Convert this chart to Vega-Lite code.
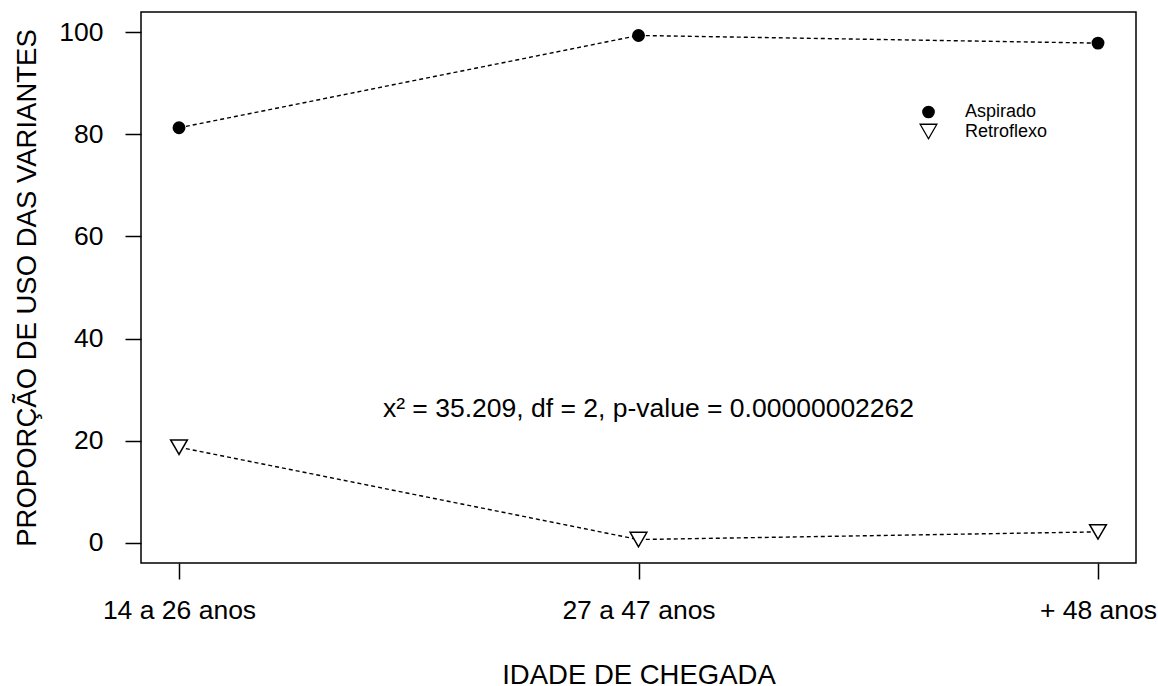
{
  "$schema": "https://vega.github.io/schema/vega-lite/v6.json",
  "width": 995,
  "height": 551,
  "autosize": {"type": "none"},
  "padding": {"left": 141, "top": 12, "right": 22, "bottom": 123},
  "background": "white",
  "config": {
    "font": "Liberation Sans",
    "view": {"stroke": "black", "strokeWidth": 1.5},
    "axis": {
      "domain": false,
      "grid": false,
      "tickColor": "black",
      "tickWidth": 1.5,
      "tickSize": 16,
      "labelColor": "black",
      "titleColor": "black",
      "labelFont": "Liberation Sans",
      "titleFont": "Liberation Sans",
      "labelFontSize": 26.5,
      "titleFontSize": 27.5,
      "titleFontWeight": "normal"
    },
    "legend": {
      "labelFont": "Liberation Sans",
      "labelFontSize": 18,
      "labelColor": "black",
      "orient": "none",
      "legendX": 778,
      "legendY": 91,
      "labelOffset": 27,
      "rowPadding": 0,
      "symbolStrokeColor": "black",
      "symbolStrokeWidth": 1.3
    }
  },
  "datasets": {
    "props": [
      {"idade": "14 a 26 anos", "variante": "Aspirado", "valor": 81.3},
      {"idade": "27 a 47 anos", "variante": "Aspirado", "valor": 99.4},
      {"idade": "+ 48 anos", "variante": "Aspirado", "valor": 97.9},
      {"idade": "14 a 26 anos", "variante": "Retroflexo", "valor": 18.7},
      {"idade": "27 a 47 anos", "variante": "Retroflexo", "valor": 0.6},
      {"idade": "+ 48 anos", "variante": "Retroflexo", "valor": 2.1}
    ],
    "nota": [
      {"idade": "27 a 47 anos", "valor": 24.7, "texto": "x² = 35.209, df = 2, p-value = 0.00000002262"}
    ]
  },
  "encoding": {
    "x": {
      "field": "idade",
      "type": "ordinal",
      "scale": {"type": "point", "domain": ["14 a 26 anos", "27 a 47 anos", "+ 48 anos"], "padding": 0.0827},
      "axis": {
        "title": "IDADE DE CHEGADA",
        "labelAngle": 0,
        "labelBaseline": "alphabetic",
        "labelPadding": 39,
        "titleX": 497.5,
        "titleY": 120,
        "titleBaseline": "alphabetic",
        "titleAlign": "center"
      }
    },
    "y": {
      "field": "valor",
      "type": "quantitative",
      "scale": {"domain": [-4, 104], "nice": false, "zero": false},
      "axis": {
        "values": [0, 20, 40, 60, 80, 100],
        "title": "PROPORÇÃO DE USO DAS VARIANTES",
        "labelPadding": 22,
        "labelBaseline": "middle",
        "titleX": -106,
        "titleY": 275.5,
        "titleAngle": -90,
        "titleBaseline": "alphabetic",
        "titleAlign": "center"
      }
    }
  },
  "layer": [
    {
      "data": {"name": "props"},
      "mark": {"type": "line", "stroke": "black", "strokeWidth": 1.4, "strokeDash": [4, 3]},
      "encoding": {"detail": {"field": "variante"}}
    },
    {
      "data": {"name": "props"},
      "mark": {"type": "point", "filled": false, "strokeWidth": 1.5, "opacity": 1},
      "encoding": {
        "shape": {
          "field": "variante",
          "type": "nominal",
          "scale": {"domain": ["Aspirado", "Retroflexo"], "range": ["circle", "triangle-down"]},
          "legend": {"title": null}
        },
        "fill": {
          "field": "variante",
          "type": "nominal",
          "scale": {"domain": ["Aspirado", "Retroflexo"], "range": ["black", "white"]},
          "legend": {"title": null}
        },
        "stroke": {
          "field": "variante",
          "type": "nominal",
          "scale": {"domain": ["Aspirado", "Retroflexo"], "range": ["black", "black"]},
          "legend": {"title": null}
        },
        "size": {
          "field": "variante",
          "type": "nominal",
          "scale": {"domain": ["Aspirado", "Retroflexo"], "range": [130, 280]},
          "legend": {"title": null}
        }
      }
    },
    {
      "data": {"name": "nota"},
      "mark": {"type": "text", "fontSize": 26.5, "baseline": "alphabetic", "align": "center", "dx": 10, "color": "black", "font": "Liberation Sans"},
      "encoding": {"text": {"field": "texto"}}
    }
  ]
}
